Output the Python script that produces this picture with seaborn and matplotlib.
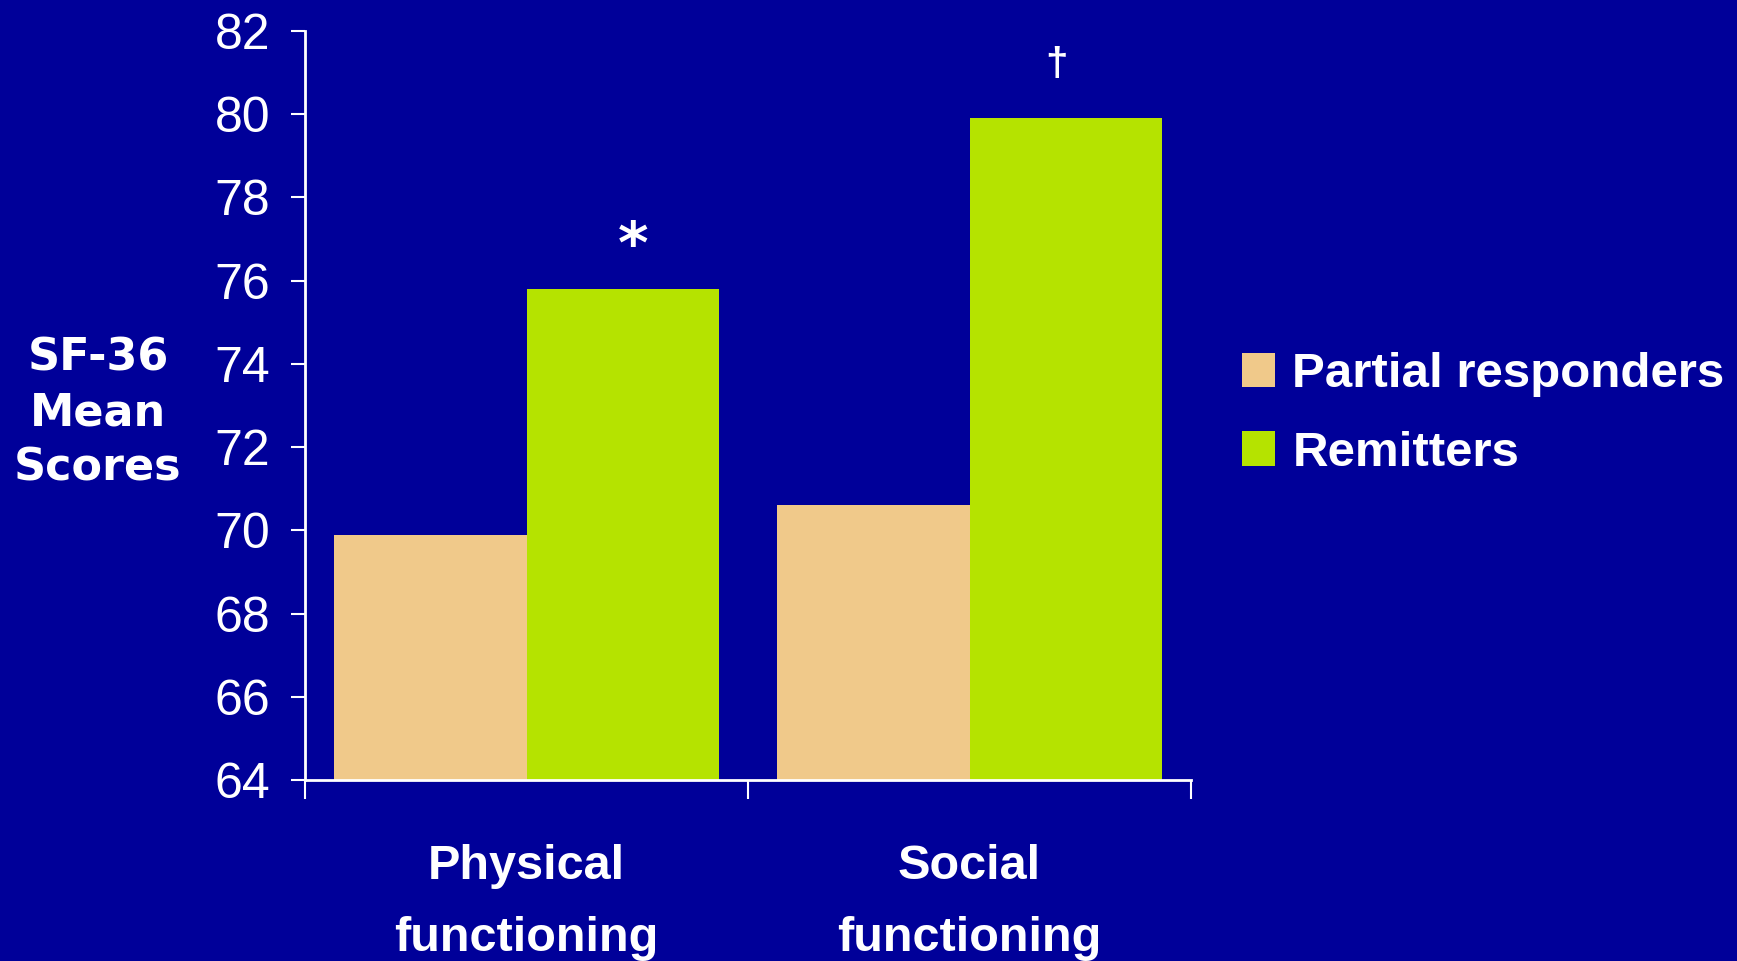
import matplotlib
matplotlib.use("Agg")
import matplotlib.pyplot as plt
from matplotlib.patches import Patch
import pandas as pd
import seaborn as sns

# SF-36 mean scores by functioning domain and response group
measures = ["Physical\nfunctioning", "Social\nfunctioning"]
groups = ["Partial responders", "Remitters"]
partial_scores = [69.9, 70.6]
remitter_scores = [75.8, 79.9]
significance = ["*", "\u2020"]
y_ticks = [64, 66, 68, 70, 72, 74, 76, 78, 80, 82]

bg = "#000099"
colors = {"Partial responders": "#F0C98A", "Remitters": "#B5E300"}

df = pd.DataFrame({
    "measure": measures * 2,
    "group": [groups[0]] * len(measures) + [groups[1]] * len(measures),
    "score": partial_scores + remitter_scores,
})

sns.set_theme(style="white")
plt.rcParams["font.family"] = ["Liberation Sans", "DejaVu Sans"]

fig = plt.figure(figsize=(17.37, 9.61), dpi=100, facecolor=bg)
ax = fig.add_axes([0.1756, 0.1883, 0.5101, 0.7794])
ax.set_facecolor(bg)

sns.barplot(data=df, x="measure", y="score", hue="group", order=measures,
            hue_order=groups, palette=colors, width=0.87, saturation=1,
            linewidth=0, legend=False, ax=ax)

ax.set_ylim(y_ticks[0], y_ticks[-1])
ax.set_xlim(-0.5, len(measures) - 0.5)

# spines
for side in ["top", "right"]:
    ax.spines[side].set_visible(False)
for side in ["left", "bottom"]:
    ax.spines[side].set_color("white")
    ax.spines[side].set_linewidth(2)

# y axis
ax.set_yticks(y_ticks)
ax.set_yticklabels([str(v) for v in y_ticks])
ax.tick_params(axis="y", direction="out", length=10, width=1.5, color="white",
               labelcolor="white", labelsize=36, pad=15, left=True)

# x axis: boundary ticks, labels centred on categories
ax.set_xticks([i - 0.5 for i in range(len(measures) + 1)])
ax.set_xticklabels([""] * (len(measures) + 1))
ax.set_xticks(list(range(len(measures))), minor=True)
ax.set_xticklabels(measures, minor=True, fontweight="bold", linespacing=1.78)
ax.tick_params(axis="x", which="major", direction="out", length=14, width=1.5,
               color="white", bottom=True)
ax.tick_params(axis="x", which="minor", length=0, labelcolor="white",
               labelsize=35, pad=46, bottom=True)
ax.set_xlabel("")

ax.set_ylabel("SF-36\nMean\nScores", rotation=0, ha="center", va="center",
              color="white", fontsize=32, fontweight="bold",
              family=["DejaVu Sans"], linespacing=1.35)
ax.yaxis.set_label_coords(-0.2336, 0.49)

# significance markers above the remitter bars
for bar, mark in zip(ax.containers[1], significance):
    cx = bar.get_x() + bar.get_width() / 2
    top = bar.get_height()
    if mark == "*":
        ax.annotate(mark, (cx, top), xytext=(7.5, 10), textcoords="offset points",
                    ha="center", va="bottom", color="white", fontsize=42,
                    fontweight="bold", family=["DejaVu Sans"])
    else:
        ax.annotate(mark, (cx, top), xytext=(-7, 25), textcoords="offset points",
                    ha="center", va="bottom", color="white", fontsize=29,
                    fontweight="bold")

handles = [Patch(facecolor=colors[g], edgecolor="none", label=g) for g in groups]
leg = fig.legend(handles=handles, loc="center left",
                 bbox_to_anchor=(1242 / 1737, 1 - 414 / 961), frameon=False,
                 prop=dict(family="Liberation Sans", weight="bold", size=35.5),
                 handlelength=0.67, handleheight=0.71, handletextpad=0.35,
                 labelspacing=0.68, borderpad=0, borderaxespad=0)
for t in leg.get_texts():
    t.set_color("white")

fig.savefig("out.png", dpi=100, facecolor=bg)
